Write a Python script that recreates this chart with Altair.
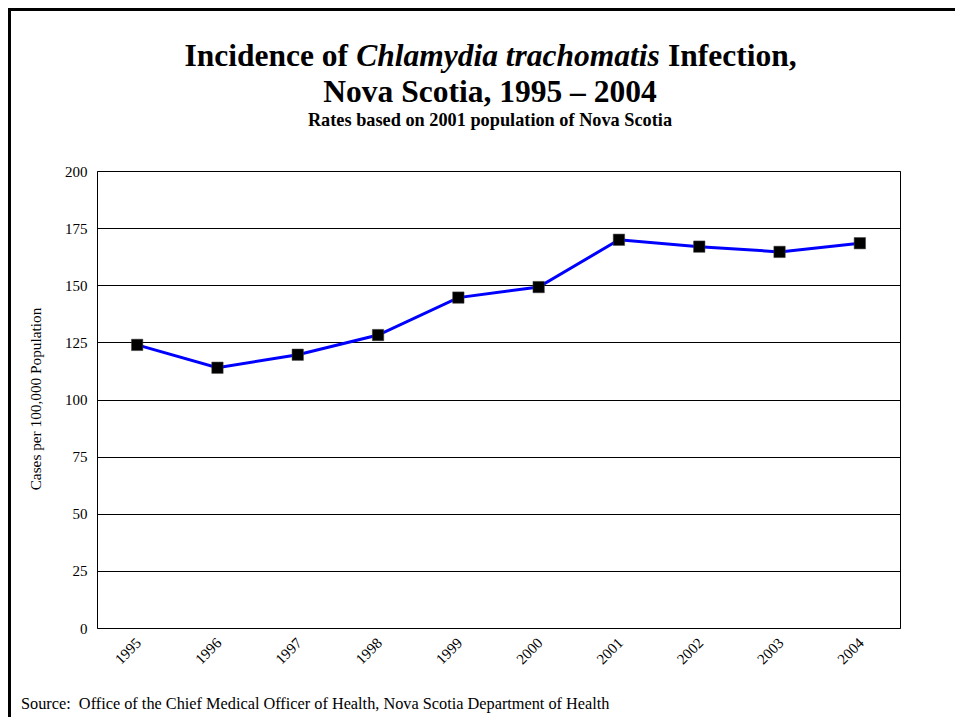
import altair as alt
import pandas as pd

# ---- data ----
years = ["1995", "1996", "1997", "1998", "1999", "2000", "2001", "2002", "2003", "2004"]
rates = [123.9, 113.9, 119.6, 128.2, 144.6, 149.2, 169.9, 166.9, 164.6, 168.4]
y_ticks = [0, 25, 50, 75, 100, 125, 150, 175, 200]

title_left = "Incidence of"
title_italic = "Chlamydia trachomatis"
title_right = "Infection,"
title_line2 = "Nova Scotia, 1995 \u2013 2004"
subtitle = "Rates based on 2001 population of Nova Scotia"
y_title = "Cases per 100,000 Population"
source = "Source:\u00a0\u00a0Office of the Chief Medical Officer of Health, Nova Scotia Department of Health"

FONT = "Liberation Serif"
PAD_L, PAD_T = 89, 163
W, H = 803, 457

df = pd.DataFrame({"year": years, "rate": rates})

x_enc = alt.X(
    "year:O",
    scale=alt.Scale(type="point", padding=0.5),
    axis=alt.Axis(
        title=None, labelAngle=-45, labelFont=FONT, labelFontSize=15,
        labelColor="black", ticks=False, domain=False, grid=False,
        labelPadding=7, labelOffset=-4,
    ),
)
y_enc = alt.Y(
    "rate:Q",
    scale=alt.Scale(domain=[0, 200], nice=False),
    axis=alt.Axis(
        values=y_ticks, title=y_title, labelFont=FONT, labelFontSize=15,
        labelColor="black", ticks=False, domain=False, grid=True,
        gridColor="black", gridOpacity=1, gridWidth=1, labelPadding=10,
        titleFont=FONT, titleFontSize=15.3, titleFontWeight="normal",
        titleColor="black", titleX=-62, titleY=227.5, titleAngle=-90,
        titleAlign="center", titleBaseline="middle",
    ),
)

base = alt.Chart(df)
line = base.mark_line(color="#0000FF", strokeWidth=3).encode(x=x_enc, y=y_enc)
pts = base.mark_point(
    shape="square", filled=True, color="black", size=130, opacity=1,
    stroke="#444444", strokeWidth=0.5,
).encode(x="year:O", y="rate:Q")


def txt(s, x, y, size, weight="bold", style="normal", align="center"):
    return alt.Chart(pd.DataFrame({"t": [s]})).mark_text(
        font=FONT, fontSize=size, fontWeight=weight, fontStyle=style,
        align=align, baseline="alphabetic", color="black",
    ).encode(text="t:N", x=alt.value(x), y=alt.value(y))


t1a = txt(title_left, 251, -105, 31.5, align="right")
t1b = txt(title_italic, 411, -105, 31.5, style="italic", align="center")
t1c = txt(title_right, 571, -105, 31.5, align="left")
t2 = txt(title_line2, 393, -69, 31.5)
t3 = txt(subtitle, 393, -45, 18.3)
src = txt(source, -76, 538, 16.3, weight="normal", align="left")

frame_top = alt.Chart(pd.DataFrame({"a": [0]})).mark_rule(
    color="black", strokeWidth=3
).encode(x=alt.value(-89), x2=alt.value(858), y=alt.value(-161.5))
frame_left = alt.Chart(pd.DataFrame({"a": [0]})).mark_rule(
    color="black", strokeWidth=3
).encode(x=alt.value(-87.5), y=alt.value(-163), y2=alt.value(546))

chart = (
    alt.layer(line, pts, t1a, t1b, t1c, t2, t3, src, frame_top, frame_left)
    .properties(
        width=W, height=H,
        autosize=alt.AutoSizeParams(type="none"),
        padding={"left": PAD_L, "top": PAD_T, "right": 55, "bottom": 89},
        background="white",
    )
    .configure_view(stroke="black", strokeWidth=1)
)

chart.save("out.html", embed_options={"renderer": "svg", "actions": False})
